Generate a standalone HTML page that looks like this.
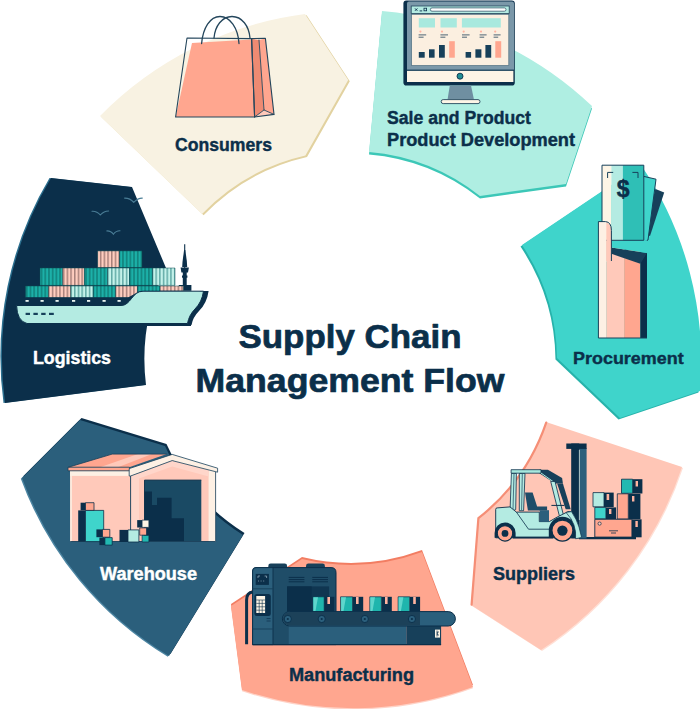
<!DOCTYPE html>
<html>
<head>
<meta charset="utf-8">
<title>Supply Chain Management Flow</title>
<style>
html,body{margin:0;padding:0;background:#ffffff;}
body{width:700px;height:709px;overflow:hidden;font-family:"Liberation Sans",sans-serif;}
svg{display:block;}
text{font-family:"Liberation Sans",sans-serif;font-weight:bold;}
</style>
</head>
<body>
<svg width="700" height="709" viewBox="0 0 700 709">
<defs>
  <pattern id="cT" width="3.7" height="20" patternUnits="userSpaceOnUse"><rect width="3.7" height="20" fill="#1cb0a8"/><rect x="0" width="1.7" height="20" fill="#12857f"/></pattern>
  <pattern id="cP" width="3.7" height="20" patternUnits="userSpaceOnUse"><rect width="3.7" height="20" fill="#ffcdbf"/><rect x="0" width="1.5" height="20" fill="#a8807a"/></pattern>
  <pattern id="cL" width="3.7" height="20" patternUnits="userSpaceOnUse"><rect width="3.7" height="20" fill="#c4f2ea"/><rect x="0" width="1.5" height="20" fill="#62aaa6"/></pattern>
</defs>
<rect x="0" y="0" width="700" height="709" fill="#ffffff"/>

<!-- ===== SEGMENTS ===== -->
<g id="segments">
  <!-- Consumers -->
  <path d="M100,116 A350,350 0 0 1 305,14 L348.2,80 L305.4,155.6 A208,208 0 0 0 202,214 Z" fill="#e2d2a0" transform="translate(1.6,1.3)"/>
  <path d="M100,116 A350,350 0 0 1 305,14 L348.2,80 L305.4,155.6 A208,208 0 0 0 202,214 Z" fill="#f8f2e2"/>
  <!-- Sale and Product -->
  <path d="M382,11 A350,350 0 0 1 592,106 L566,184 L480,196 A208,208 0 0 0 369,152 Z" fill="#3cc7b7" transform="translate(0,2.5)"/>
  <path d="M382,11 A350,350 0 0 1 592,106 L566,184 L480,196 A208,208 0 0 0 369,152 Z" fill="#afeee2"/>
  <!-- Procurement -->
  <path d="M522,245 L641,165 A350,350 0 0 1 700,391 L620,418 L557,358 A208,208 0 0 0 522,245 Z" fill="#27b3ab" transform="translate(-1.5,1.5)"/>
  <path d="M522,245 L641,165 A350,350 0 0 1 700,391 L620,418 L557,358 A208,208 0 0 0 522,245 Z" fill="#3fd4cb"/>
  <!-- Suppliers -->
  <path d="M546,422 L682,467 A349,349 0 0 1 541,650 L471,605 L478,518 A206,206 0 0 0 546,422 Z" fill="#ffe0d6" transform="translate(1,1)"/>
  <path d="M546,422 L682,467 A349,349 0 0 1 541,650 L471,605 L478,518 A206,206 0 0 0 546,422 Z" fill="#ffc6b6"/>
  <path d="M546.2,422.6 A206,206 0 0 1 478.4,518.2 L471.6,604.6" fill="none" stroke="#f58e76" stroke-width="2.2" stroke-linejoin="round" stroke-linecap="round"/>
  <!-- Manufacturing -->
  <path d="M422,552 L473,687 A349,349 0 0 1 242,690 L231,606 L302,559 A206,206 0 0 0 422,552 Z" fill="#ffd3c7" transform="translate(0,1.3)"/>
  <path d="M422,552 L473,687 A349,349 0 0 1 242,690 L231,606 L302,559 A206,206 0 0 0 422,552 Z" fill="#f27d62" transform="translate(0,-2)"/>
  <path d="M422,552 L473,687 A349,349 0 0 1 242,690 L231,606 L302,559 A206,206 0 0 0 422,552 Z" fill="#ffa68f"/>
  <!-- Warehouse -->
  <path d="M243,535 L169,656 A349,349 0 0 1 22,478 L80,420 L165,446 A206,206 0 0 0 243,535 Z" fill="#4d86a3" transform="translate(-1.2,0.8)"/>
  <path d="M243,535 L169,656 A349,349 0 0 1 22,478 L80,420 L165,446 A206,206 0 0 0 243,535 Z" fill="#0b2f4a" transform="translate(1.5,-2)"/>
  <path d="M243,535 L169,656 A349,349 0 0 1 22,478 L80,420 L165,446 A206,206 0 0 0 243,535 Z" fill="#2b5f7c"/>
  <!-- Logistics -->
  <path d="M146,385 L5,403 A349,349 0 0 1 51,178 L132,187 L166,268 A206,206 0 0 0 146,385 Z" fill="#2b6f8f" transform="translate(-1.5,0)"/>
  <path d="M146,385 L5,403 A349,349 0 0 1 51,178 L132,187 L166,268 A206,206 0 0 0 146,385 Z" fill="#0b2f4a"/>
</g>

<!-- ===== ICONS ===== -->
<g id="icons">
<!-- BAG -->
<g id="bag" stroke-linejoin="round" stroke-linecap="round">
  <path d="M214,38 C215,26 222,16.5 232,16.5 C242,16.5 249,26 250,38" fill="none" stroke="#24465c" stroke-width="1.3"/>
  <polygon points="192,43 251.6,39.5 254.6,117 175.6,117" fill="#ffa68f"/>
  <polygon points="251.6,39 259,40 264,110 254.6,117" fill="#ee8a72"/>
  <polygon points="259,40 265.4,38.4 274,114.4 264,110" fill="#ffa68f"/>
  <polygon points="254.6,117 264,110 274,114.4" fill="#ffc9ba"/>
  <polygon points="187,38 251.6,38.6 254.6,117 175.6,117" fill="none" stroke="#24465c" stroke-width="1.1"/>
  <polygon points="251.6,38.6 265.4,38.4 274,114.4 254.6,117" fill="none" stroke="#24465c" stroke-width="1.1"/>
  <path d="M259,40 L264,110 L274,114.4 M264,110 L254.6,117" fill="none" stroke="#24465c" stroke-width="0.9"/>
  <path d="M201.6,43.5 C203,28 210,16.5 220,16.5 C230,16.5 238,28 239,43.5" fill="none" stroke="#24465c" stroke-width="1.3"/>
</g>

<!-- MONITOR -->
<g id="monitor">
  <path d="M406.4,0.6 H511.8 Q514.8,0.6 514.8,3.6 V82.5 Q514.8,85.6 511.8,85.6 H406.5 Q403.4,85.6 403.4,82.5 V3.6 Q403.4,0.6 406.4,0.6 Z" fill="#0b2f4a"/>
  <path d="M409,1.4 H512 Q514,1.4 514,3.4 V70 H407 V3.4 Q407,1.4 409,1.4 Z" fill="#7b98a9"/>
  <rect x="407" y="70.4" width="106.4" height="11.6" fill="#fdf5e6"/>
  <rect x="411.6" y="14.3" width="97.2" height="51.2" fill="#fbefe0" stroke="#4f6f82" stroke-width="0.7"/>
  <rect x="407" y="69.6" width="107" height="1.2" fill="#17405a"/>
  <rect x="411.2" y="6" width="98" height="7.4" fill="#b4ebe2" stroke="#24465c" stroke-width="0.8"/>
  <rect x="430.4" y="7.9" width="75.6" height="3.3" rx="1.6" fill="#ffffff" stroke="#24465c" stroke-width="0.7"/>
  <path d="M415,8.4 l2.4,2.4 m0,-2.4 l-2.4,2.4" stroke="#0b2f4a" stroke-width="0.9" fill="none"/>
  <path d="M419.6,10.9 h2.6" stroke="#0b2f4a" stroke-width="0.9" fill="none"/>
  <rect x="424" y="8.2" width="2.6" height="2.6" fill="none" stroke="#0b2f4a" stroke-width="0.8"/>
  <rect x="418.8" y="18.2" width="16.2" height="9.3" fill="#a8e9de"/>
  <rect x="440.5" y="18.2" width="16.3" height="9.3" fill="#a8e9de"/>
  <rect x="461.9" y="18.2" width="38.9" height="9.3" fill="#a8e9de"/>
  <g fill="#ffb3a0">
    <circle cx="420.4" cy="31.6" r="1.1"/><circle cx="442" cy="31.6" r="1.1"/><circle cx="463.7" cy="31.6" r="1.1"/><circle cx="481" cy="31.6" r="1.1"/><circle cx="495.2" cy="31.6" r="1.1"/>
  </g>
  <g stroke="#3b566a" stroke-width="0.9">
    <path d="M418.6,34.9 h7.6 M418.6,37.2 h5"/>
    <path d="M440.4,34.9 h7.6 M440.4,37.2 h5"/>
    <path d="M462,34.9 h7.6 M462,37.2 h5"/>
    <path d="M479.6,34.9 h7 M479.6,37.2 h4.6"/>
    <path d="M493.6,34.9 h7 M493.6,37.2 h4.6"/>
  </g>
  <g fill="#17405a">
    <rect x="418.8" y="52" width="5.9" height="5.7"/>
    <rect x="429" y="49.3" width="5.6" height="8.4"/>
    <rect x="439" y="45" width="5.8" height="12.7"/>
    <rect x="465.6" y="52" width="5.5" height="5.7"/>
    <rect x="475.4" y="49.3" width="6" height="8.4"/>
    <rect x="485.4" y="45" width="5.8" height="12.7"/>
  </g>
  <rect x="449.2" y="41.2" width="5.6" height="16.5" fill="#ffa68f"/>
  <rect x="495.3" y="41.2" width="5.9" height="16.5" fill="#ffa68f"/>
  <circle cx="460" cy="76.2" r="3" fill="#1f8f95" stroke="#0b2f4a" stroke-width="0.9"/>
  <polygon points="449.8,85.6 471,85.6 474,99.8 447.5,99.8" fill="#6f8fa1"/>
  <rect x="441.2" y="99.6" width="38.8" height="4" rx="2" fill="#fdf5e6" stroke="#24465c" stroke-width="0.9"/>
</g>
<!-- MONEY + HAND -->
<g id="money" stroke-linejoin="round">
  <!-- third bill (dark) -->
  <polygon points="655.5,189 664.2,192.6 650,236 643,233" fill="#17405a"/>
  <!-- second bill (teal) -->
  <polygon points="643.8,176.4 656,179.2 648,240 620,252 611.4,247.5 611.4,238" fill="#3fd4cb" stroke="#17405a" stroke-width="1"/>
  <!-- hand body -->
  <rect x="598.4" y="222" width="8" height="116" fill="#fdf0e4"/>
  <rect x="606.3" y="240" width="18" height="98" fill="#ffc9ba"/>
  <rect x="624.2" y="250" width="16.2" height="88" fill="#ffa68f"/>
  <polygon points="640.3,262 647,252 647,338 640.3,338" fill="#0b2f4a"/>
  <!-- dark fingers band -->
  <polygon points="611.4,247.5 647,252.9 640.3,263.8 611.4,253.8" fill="#17405a"/>
  <!-- teal between bill and fingers -->
  <polygon points="611.4,240.3 647,240.3 647,252.9 611.4,247.5" fill="#3fd4cb"/>
  <!-- front bill -->
  <rect x="602" y="165.2" width="9.6" height="75.1" fill="#fdf5e6"/>
  <rect x="611.4" y="165.2" width="11.6" height="75.1" fill="#b4ebe2"/>
  <rect x="622.9" y="165.2" width="20.9" height="75.1" fill="#2fbfb6"/>
  <rect x="602" y="165.2" width="41.8" height="75.1" fill="none" stroke="#17405a" stroke-width="1"/>
  <path d="M607.6,178 V172.4 H613.2" fill="none" stroke="#17405a" stroke-width="1"/>
  <path d="M632.4,172.4 H638 V178" fill="none" stroke="#17405a" stroke-width="1"/>
  <text x="623.1" y="196.8" font-size="23" text-anchor="middle" fill="#0b2f4a" stroke="#0b2f4a" stroke-width="0.5" font-weight="bold">$</text>
  <!-- thumb -->
    <path d="M598.4,222 H606.3 V262 H598.4 Z" fill="#fdf0e4"/>
  <path d="M606.3,222.4 Q611.4,223.5 611.4,231 V261 H606.3 Z" fill="#ffc9ba"/>
  <path d="M598.4,338 V221.6 H605.5 Q611.4,222 611.4,230.5 V261" fill="none" stroke="#17405a" stroke-width="1"/>
  <path d="M598.4,338 H647" fill="none" stroke="#17405a" stroke-width="1"/>
</g>

<!-- FORKLIFT + BOXES -->
<g id="forklift" stroke-linejoin="round">
  <!-- boxes -->
  <g>
    <rect x="632.6" y="479.2" width="9.8" height="14.3" fill="#0b2f4a"/>
    <rect x="621.5" y="479.2" width="11.1" height="14.1" fill="#22b9b1" stroke="#0b2f4a" stroke-width="0.8"/>
    <rect x="635.6" y="481" width="2.4" height="5.5" fill="#ffb3a0"/>
    <rect x="628.3" y="493.8" width="12.1" height="25.2" fill="#0b2f4a"/>
    <rect x="617.3" y="493.8" width="11" height="25.2" fill="#ffa68f" stroke="#0b2f4a" stroke-width="0.8"/>
    <rect x="632" y="496" width="2.4" height="5.5" fill="#ffb3a0"/>
    <rect x="604" y="492.6" width="9.7" height="14.4" fill="#0b2f4a"/>
    <rect x="593" y="492.6" width="11" height="14.2" fill="#b4ebe2" stroke="#0b2f4a" stroke-width="0.8"/>
    <rect x="606.6" y="494" width="2.6" height="6" fill="#ffb3a0"/>
    <rect x="605.9" y="507.4" width="10.2" height="11.6" fill="#0b2f4a"/>
    <rect x="594.8" y="507.4" width="11.1" height="11.4" fill="#3fd4cb" stroke="#0b2f4a" stroke-width="0.8"/>
    <rect x="609" y="509" width="2.4" height="5" fill="#ffb3a0"/>
    <rect x="631.9" y="519.3" width="9.7" height="18" fill="#0b2f4a"/>
    <rect x="594.8" y="519.3" width="37.1" height="17.8" fill="#ffa68f" stroke="#0b2f4a" stroke-width="0.9"/>
    <rect x="635.4" y="521" width="2.4" height="6" fill="#ffb3a0"/>
    <circle cx="599.6" cy="523.6" r="1.6" fill="#ffc9ba" stroke="#0b2f4a" stroke-width="0.7"/>
    <path d="M609,530.8 h9 M611,533 h5" stroke="#0b2f4a" stroke-width="0.8" fill="none"/>
  </g>
  <!-- fork -->
  <path d="M579,538.2 H636" stroke="#0b2f4a" stroke-width="2.2" fill="none"/>
  <!-- mast -->
  <rect x="579.2" y="448" width="7.4" height="90.5" fill="#2b5f7c"/>
  <rect x="571.2" y="443.5" width="8" height="95" fill="#0b2f4a"/>
  <rect x="566.3" y="443.5" width="20.3" height="5.4" fill="#0b2f4a"/>
  <path d="M579.4,450 V520" stroke="#d9ece8" stroke-width="0.7"/>
  <!-- cab frame: rear pillars -->
  <polygon points="511.4,473.4 516.4,473.4 515.7,509.5 510,512.1" fill="#b4ebe2" stroke="#0b2f4a" stroke-width="0.8"/>
  <path d="M514,474 L513,509" stroke="#17405a" stroke-width="0.7"/>
  <polygon points="519.3,473.4 525,473.4 523.6,510.7 519.3,510.7" fill="#b4ebe2" stroke="#0b2f4a" stroke-width="0.8"/>
  <path d="M522.3,474 L521.6,510" stroke="#17405a" stroke-width="0.7"/>
  <!-- roof -->
  <polygon points="539.3,469.7 547.9,469.7 562.1,477.9 562.9,483.6 555,483.6 539.3,473.2" fill="#17405a"/>
  <polygon points="511.1,469.7 541,469.7 541,473.2 511.1,473.2" fill="#a8e9de" stroke="#0b2f4a" stroke-width="0.8"/>
  <path d="M541,473 L553,481.5" stroke="#a8e9de" stroke-width="1" fill="none"/>
  <!-- front pillars -->
  <polygon points="557.1,483.6 562.9,483.6 570.7,509.3 565.7,509.3" fill="#17405a"/>
  <polygon points="550.7,481.4 555,481.4 563.6,515.7 559.3,515.7" fill="#b4ebe2" stroke="#0b2f4a" stroke-width="0.8"/>
  <!-- seat -->
  <polygon points="525,492.6 532.6,492.6 537.1,506.4 547.1,506.4 547.1,510.4 527.9,510.4" fill="#1f4d68"/>
  <path d="M551.4,505.4 h13" stroke="#0b2f4a" stroke-width="1"/>
  <!-- body -->
  <path d="M495.7,509.4 Q495.7,507.9 497.2,507.9 L510,506.9 L516.4,512.1 H539.3 V521.6 H549.3 L557.1,517.1 L568,511.6 L571.2,511.6 V537.8 H495.7 Z" fill="#b4ebe2" stroke="#0b2f4a" stroke-width="0.9"/>
  <path d="M516.4,512.1 L528.5,529.2 H551" fill="none" stroke="#0b2f4a" stroke-width="0.8"/>
  <rect x="539.6" y="510.2" width="9.4" height="11.6" fill="#2b5f7c"/>
  <rect x="513" y="536.6" width="40" height="1.8" fill="#0b2f4a"/>
  <!-- wheel arches -->
  <path d="M494.6,537.8 V533 A10.4,10.4 0 0 1 515.6,533 V537.8 Z" fill="#0b2f4a"/>
  <path d="M548.8,537.8 V530.4 A13.6,13.6 0 0 1 576,530.4 V537.8 Z" fill="#0b2f4a"/>
  <!-- front fender -->
  <path d="M566,512.4 L571.5,511.6 Q577,520 579,527 L581.6,537.4 L575.6,538.8 Q577,524 566,512.4 Z" fill="#b4ebe2" stroke="#0b2f4a" stroke-width="0.7"/>
  <!-- wheels -->
  <circle cx="505" cy="533.4" r="7.7" fill="#ffa68f" stroke="#0b2f4a" stroke-width="1.1"/>
  <circle cx="505" cy="533.4" r="3.4" fill="#0b2f4a"/>
  <circle cx="562.4" cy="530.6" r="10.5" fill="#ffa68f" stroke="#0b2f4a" stroke-width="1.2"/>
  <circle cx="562.4" cy="530.6" r="5.2" fill="#0b2f4a"/>
</g>
<!-- MACHINE -->
<g id="machine" stroke-linejoin="round">
  <!-- cable -->
  <path d="M253,592 Q246.6,592.5 246.6,600 V644.2" fill="none" stroke="#0b2f4a" stroke-width="3"/>
  <!-- knobs -->
  <rect x="268.3" y="563.6" width="18.8" height="6" rx="2.4" fill="#17405a"/>
  <rect x="306" y="563.6" width="18.9" height="6" rx="2.4" fill="#17405a"/>
  <!-- main body -->
  <path d="M256,567.6 H331 Q336,567.6 336,572.6 V644.6 H252.6 V571 Q252.6,567.6 256,567.6 Z" fill="#1f4d68" stroke="#0b2f4a" stroke-width="1"/>
  <path d="M256,567.6 H273 V644.6 H252.6 V571 Q252.6,567.6 256,567.6 Z" fill="#2b5f7c" stroke="#0b2f4a" stroke-width="0.9"/>
  <path d="M252.6,588.8 H273 M252.6,629 H273" stroke="#17405a" stroke-width="0.9"/>
  <!-- top screen -->
  <rect x="255.7" y="573.9" width="13.2" height="11" fill="#0b2f4a"/>
  <path d="M258,578 v-2 h2 M266.6,578 v-2 h-2 M258,581 h1 m1.6,0 h1 m1.6,0 h1" stroke="#9fb6c4" stroke-width="0.7" fill="none"/>
  <!-- keypad -->
  <rect x="254.4" y="594" width="16.4" height="22" rx="2.5" fill="#0b2f4a"/>
  <rect x="256.3" y="596" width="8.8" height="17" fill="#fdf5e6"/>
  <path d="M256.3,600 h8.8 M256.3,603.4 h8.8 M256.3,606.8 h8.8 M256.3,610.2 h8.8 M259.2,600 v13 M262.2,600 v13" stroke="#0b2f4a" stroke-width="0.6" fill="none"/>
  <path d="M266.6,618.6 h4 M266.6,621 h4" stroke="#0b2f4a" stroke-width="0.7"/>
  <!-- vents -->
  <path d="M288.7,577.4 h15.7 M288.7,579.6 h15.7 M288.7,581.8 h15.7 M312.3,577.4 h15.7 M312.3,579.6 h15.7 M312.3,581.8 h15.7" stroke="#0b2f4a" stroke-width="1"/>
  <!-- opening -->
  <rect x="287.1" y="586.4" width="42" height="25.4" fill="#103651"/>
  <rect x="287.1" y="586.4" width="24.6" height="25.4" fill="#0b2f4a"/>
  <!-- base under conveyor -->
  <rect x="288.7" y="626" width="118" height="18.6" fill="#2b5f7c"/>
  <rect x="406.6" y="624" width="34.5" height="20.6" fill="#17405a"/>
  <path d="M252.6,644.6 H441.1" stroke="#0b2f4a" stroke-width="1.2"/>
  <rect x="435" y="629.6" width="5" height="8" fill="#fdf5e6"/>
  <path d="M437,630.5 v6 M439,632 h-1.6 v3 h1.6" stroke="#0b2f4a" stroke-width="0.7" fill="none"/>
  <!-- boxes on conveyor -->
  <g>
    <rect x="324.2" y="596.8" width="10.2" height="15" fill="#0b2f4a"/>
    <rect x="312.9" y="596.8" width="11.3" height="15" fill="#1fb5ad" stroke="#0b2f4a" stroke-width="0.7"/>
    <polygon points="313.4,597.2 318,597.2 315.4,611.4 313.4,611.4" fill="#5fd6cc"/>
    <rect x="327.4" y="597" width="2.6" height="7" fill="#ffb3a0"/>
    <rect x="352.5" y="596.8" width="10.7" height="15" fill="#0b2f4a"/>
    <rect x="340.6" y="596.8" width="11.9" height="15" fill="#1fb5ad" stroke="#0b2f4a" stroke-width="0.7"/>
    <polygon points="341.1,597.2 346,597.2 343.4,611.4 341.1,611.4" fill="#5fd6cc"/>
    <rect x="356" y="597" width="2.6" height="7" fill="#ffb3a0"/>
    <rect x="381.4" y="596.8" width="10.4" height="15" fill="#0b2f4a"/>
    <rect x="369.8" y="596.8" width="11.6" height="15" fill="#1fb5ad" stroke="#0b2f4a" stroke-width="0.7"/>
    <polygon points="370.3,597.2 375,597.2 372.4,611.4 370.3,611.4" fill="#5fd6cc"/>
    <rect x="385" y="597" width="2.6" height="7" fill="#ffb3a0"/>
    <rect x="409.7" y="596.8" width="10.4" height="15" fill="#0b2f4a"/>
    <rect x="398.1" y="596.8" width="11.6" height="15" fill="#1fb5ad" stroke="#0b2f4a" stroke-width="0.7"/>
    <polygon points="398.6,597.2 403.4,597.2 400.8,611.4 398.6,611.4" fill="#5fd6cc"/>
    <rect x="413.2" y="597" width="2.6" height="7" fill="#ffb3a0"/>
  </g>
  <!-- conveyor -->
  <rect x="282.4" y="611.6" width="173" height="14.4" rx="7.2" fill="#2b5f7c" stroke="#0b2f4a" stroke-width="1"/>
  <path d="M289.6,612.1 H420 V625.5 H289.6 A6.7,6.7 0 0 1 289.6,612.1 Z" fill="#1c4159"/>
  <g fill="#2b5f7c" stroke="#0b2f4a" stroke-width="0.9">
    <circle cx="287.8" cy="619" r="3.6"/><circle cx="321.7" cy="619" r="3.6"/><circle cx="364.8" cy="619" r="3.6"/><circle cx="411.9" cy="619" r="3.6"/>
  </g>
  <g fill="#0b2f4a">
    <circle cx="287.8" cy="619" r="1.1"/><circle cx="321.7" cy="619" r="1.1"/><circle cx="364.8" cy="619" r="1.1"/><circle cx="411.9" cy="619" r="1.1"/>
  </g>
</g>

<!-- WAREHOUSE -->
<g id="warehouse" stroke-linejoin="round">
  <!-- side wall -->
  <rect x="70.2" y="470.6" width="60" height="71" fill="#ffc9ba"/>
  <rect x="70.2" y="470.6" width="60" height="5.3" fill="#fdf0e4"/>
  <rect x="70.2" y="470.6" width="1.6" height="71" fill="#fdf0e4"/>
  <!-- side roof -->
  <polygon points="68.5,467.2 112.2,454.1 166.8,454.1 129.2,467.2" fill="#ffa68f"/>
  <polygon points="100,467.2 138,454.1 152,454.1 118,467.2" fill="#ffc9ba"/>
  <rect x="68" y="467.2" width="61.5" height="3.6" fill="#ffa68f" stroke="#17405a" stroke-width="0.8"/>
  <path d="M68.5,467.2 L112.2,454.1 H166.8" fill="none" stroke="#17405a" stroke-width="0.8"/>
  <!-- front wall -->
  <polygon points="130.6,475.9 172.2,460.4 215.6,471.6 215.6,541.5 130.6,541.5" fill="#ffc9ba"/>
  <polygon points="208.6,469.8 215.6,471.6 215.6,541.5 208.6,541.5" fill="#fdf0e4"/>
  <polygon points="130.6,475.9 172.2,460.4 208.6,469.8 208.6,476.5 172.2,466.6 139,478.6 139,541.5 130.6,541.5" fill="#ffd6ca"/>
  <!-- gable trim -->
  <polygon points="129.2,468.6 172.2,454.4 217.6,468.2 217.6,472.2 172.2,460.6 130.6,476 129.2,476" fill="#fdf0e4" stroke="#17405a" stroke-width="0.8"/>
  <path d="M130.6,476 V541.5" stroke="#17405a" stroke-width="0.9"/>
  <path d="M215.6,472 V541.5" stroke="#17405a" stroke-width="0.8"/>
  <!-- door -->
  <rect x="144.5" y="480.1" width="56.8" height="61.4" fill="#1a4a64"/>
  <polygon points="144.5,491.5 152,491.5 152,505 157,505 157,497.8 171.6,497.8 171.6,518.2 184,518.2 184,541.5 144.5,541.5" fill="#0b2f4a"/>
  <path d="M144.5,541.5 V480.1 H201.3" fill="none" stroke="#0b2f4a" stroke-width="0.9"/>
  <!-- ground line -->
  <path d="M70.2,541.5 H215.6" stroke="#17405a" stroke-width="0.9"/>
  <!-- boxes left -->
  <rect x="78.2" y="510.4" width="7.3" height="31.2" fill="#0b2f4a"/>
  <rect x="85.5" y="510.4" width="18.2" height="31.2" fill="#3fd4cb" stroke="#0b2f4a" stroke-width="0.8"/>
  <rect x="80.6" y="502.7" width="5" height="7.7" fill="#0b2f4a"/>
  <rect x="85.5" y="502.7" width="8.5" height="7.7" fill="#ffa68f" stroke="#0b2f4a" stroke-width="0.8"/>
  <rect x="96.4" y="529.4" width="6.2" height="7.8" fill="#0b2f4a"/>
  <rect x="102.5" y="529.4" width="7.3" height="7.8" fill="#ffa68f" stroke="#0b2f4a" stroke-width="0.8"/>
  <rect x="99.4" y="537.6" width="5.6" height="7.5" fill="#0b2f4a"/>
  <rect x="104.9" y="537.6" width="7.3" height="7.5" fill="#22b9b1" stroke="#0b2f4a" stroke-width="0.8"/>
  <!-- middle -->
  <rect x="119.5" y="529.9" width="8.5" height="12.1" fill="#0b2f4a"/>
  <rect x="128" y="529.9" width="10.9" height="12.1" fill="#b4ebe2" stroke="#0b2f4a" stroke-width="0.8"/>
  <!-- stack -->
  <rect x="137.2" y="520.1" width="5" height="7.4" fill="#0b2f4a"/>
  <rect x="142.1" y="520.1" width="6.8" height="7.3" fill="#fdf5e6" stroke="#0b2f4a" stroke-width="0.7"/>
  <rect x="139.7" y="527.9" width="6.8" height="7.3" fill="#ffa68f" stroke="#0b2f4a" stroke-width="0.7"/>
  <rect x="142.1" y="535.4" width="6.8" height="6.6" fill="#22b9b1" stroke="#0b2f4a" stroke-width="0.7"/>
</g>

<!-- BIRDS -->
<g id="birds" fill="none" stroke="#4a7d96" stroke-width="1.1" stroke-linecap="round">
  <path d="M124.6,198.1 Q130,198 133.7,202.3 Q138,198 142.3,198.1"/>
  <path d="M92,211.3 Q97,211 100.3,215 Q104,211 108.6,211"/>
  <path d="M106.9,230.9 Q111,230.8 113.4,234.2 Q116,230.6 120,230.7"/>
</g>

<!-- SHIP -->
<g id="ship" stroke-linejoin="round">
  <!-- mast -->
  <path d="M184.7,244.2 V290" stroke="#0b2f4a" stroke-width="1.1"/>
  <polygon points="184.1,250 185.3,250 186.8,261 187.2,267 182.2,267 182.6,261" fill="#0b2f4a"/>
  <path d="M180.6,267.4 H188.9 L188,272.4 H181.4 Z" fill="#0b2f4a"/>
  <rect x="182.8" y="272" width="3.9" height="13" fill="#0b2f4a"/>
  <rect x="182" y="275.5" width="5.4" height="2.2" fill="#0b2f4a"/>
  <rect x="178.8" y="285" width="12.6" height="5.8" fill="#0b2f4a"/>
  <!-- containers -->
  <g id="containers" stroke="#0c4a52" stroke-width="0.5">
    <rect x="97.6" y="250.9" width="22" height="16.6" fill="url(#cP)"/>
    <rect x="119.6" y="250.9" width="22.4" height="16.6" fill="url(#cT)"/>
    <rect x="40" y="268" width="22.5" height="17.4" fill="url(#cT)"/>
    <rect x="62.5" y="268" width="22" height="17.4" fill="url(#cP)"/>
    <rect x="84.5" y="268" width="23" height="17.4" fill="url(#cT)"/>
    <rect x="107.5" y="268" width="22" height="17.4" fill="url(#cL)"/>
    <rect x="129.5" y="268" width="23" height="17.4" fill="url(#cT)"/>
    <rect x="152.5" y="268" width="22.5" height="17.4" fill="url(#cL)"/>
    <rect x="25.6" y="286" width="22.8" height="11.6" fill="url(#cT)"/>
    <rect x="48.4" y="286" width="22.5" height="11.6" fill="url(#cP)"/>
    <rect x="70.9" y="286" width="22.5" height="11.6" fill="url(#cL)"/>
    <rect x="93.4" y="286" width="22.2" height="11.6" fill="url(#cT)"/>
    <rect x="115.6" y="286" width="22" height="11.6" fill="url(#cP)"/>
    <rect x="137.6" y="286" width="22.4" height="8" fill="url(#cT)"/>
    <rect x="160" y="286" width="23.4" height="5" fill="url(#cP)"/>
  </g>
  <!-- deck dark strip with windows -->
  <path d="M22,297.4 H128 L140,291 H160 V306 H22 Z" fill="#0b2f4a"/>
  <g fill="#e9f4f1">
    <rect x="25.5" y="300" width="3.2" height="1.8"/><rect x="40.5" y="300" width="3.2" height="1.8"/><rect x="55.5" y="300" width="3.2" height="1.8"/><rect x="72" y="300" width="3.2" height="1.8"/><rect x="87" y="300" width="3.2" height="1.8"/><rect x="102.5" y="300" width="3.2" height="1.8"/><rect x="117.5" y="300" width="3.2" height="1.8"/>
  </g>
  <!-- hull shadow -->
  <path d="M200,291 H208.6 Q207,303 199,311 Q193,317 191.5,325 H186 Z" fill="#0b2f4a"/>
  <path d="M23.5,323.5 H191 V326 H30 Z" fill="#0b2f4a"/>
  <!-- hull -->
  <path d="M16.6,305.5 H121 C131,305.5 132,291.2 143,291.2 H203.5 Q202,302 195,309 Q189,315 187.5,323.5 H27 Q17,321 16.6,305.5 Z" fill="#b4ebe2" stroke="#0b2f4a" stroke-width="1"/>
  <g fill="#17405a">
    <rect x="25.6" y="312.8" width="4.4" height="2.2"/><rect x="33.4" y="312.8" width="4.4" height="2.2"/><rect x="41.2" y="312.8" width="4.4" height="2.2"/><rect x="49" y="312.8" width="4.8" height="2.2"/>
  </g>
</g>
</g>

<!-- ===== TEXT ===== -->
<g id="labels" fill="#0b2f4a" stroke="#0b2f4a" stroke-width="0.4" stroke-linejoin="round">
  <text x="238.5" y="348" font-size="33" stroke-width="0.7" textLength="223" lengthAdjust="spacingAndGlyphs">Supply Chain</text>
  <text x="195.5" y="391.6" font-size="33" stroke-width="0.7" textLength="309" lengthAdjust="spacingAndGlyphs">Management Flow</text>
  <text x="175" y="150.8" font-size="17.8" textLength="97" lengthAdjust="spacingAndGlyphs">Consumers</text>
  <text x="387" y="123.6" font-size="17.5" textLength="144" lengthAdjust="spacingAndGlyphs">Sale and Product</text>
  <text x="387" y="145.6" font-size="17.5" textLength="188" lengthAdjust="spacingAndGlyphs">Product Development</text>
  <text x="573" y="364" font-size="17.3" textLength="110.7" lengthAdjust="spacingAndGlyphs">Procurement</text>
  <text x="493" y="579.5" font-size="17.5" textLength="82" lengthAdjust="spacingAndGlyphs">Suppliers</text>
  <text x="289" y="681" font-size="17.5" textLength="125" lengthAdjust="spacingAndGlyphs">Manufacturing</text>
  <text x="100" y="580.1" font-size="17.5" textLength="97" lengthAdjust="spacingAndGlyphs" fill="#ffffff" stroke="#ffffff">Warehouse</text>
  <text x="33" y="364.3" font-size="17.5" textLength="78" lengthAdjust="spacingAndGlyphs" fill="#ffffff" stroke="#ffffff">Logistics</text>
</g>
</svg>
</body>
</html>
